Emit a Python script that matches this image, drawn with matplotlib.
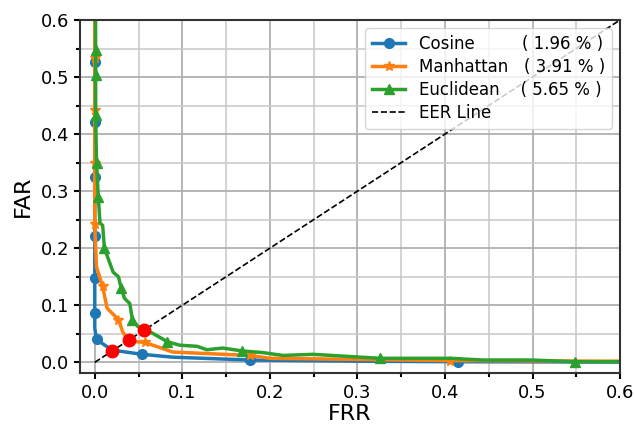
import matplotlib
matplotlib.use("Agg")
import matplotlib.pyplot as plt
from matplotlib.ticker import MultipleLocator

# Cosine
cos_frr = [0.0, 0.0, 0.0, 0.0, 0.0, 0.0, 0.0, 0.0, 0.002, 0.0196, 0.054, 0.089, 0.177, 0.30, 0.415, 0.60]
cos_far = [1.0, 0.527, 0.421, 0.325, 0.221, 0.147, 0.086, 0.060, 0.040, 0.0215, 0.014, 0.009, 0.004, 0.002, 0.001, 0.0005]
cos_marks = [1, 2, 3, 4, 5, 6, 8, 10, 12, 14]

# Manhattan
man_frr = [0.0, 0.0, 0.0, 0.0, 0.0, 0.001, 0.002, 0.009, 0.014, 0.027, 0.032, 0.039, 0.057, 0.089, 0.177, 0.20, 0.406, 0.60]
man_far = [1.0, 0.533, 0.442, 0.350, 0.242, 0.200, 0.167, 0.133, 0.095, 0.075, 0.053, 0.037, 0.035, 0.018, 0.012, 0.007, 0.003, 0.002]
man_marks = [1, 2, 3, 4, 7, 9, 12, 14, 16]

# Euclidean
euc_frr = [0.0, 0.001, 0.001, 0.001, 0.002, 0.004, 0.006, 0.009, 0.011, 0.021, 0.027, 0.030, 0.034,
           0.040, 0.043, 0.049, 0.0565, 0.066, 0.083, 0.097, 0.117, 0.128, 0.146, 0.168, 0.192,
           0.215, 0.249, 0.326, 0.406, 0.443, 0.50, 0.549, 0.60]
euc_far = [1.0, 0.547, 0.504, 0.433, 0.350, 0.290, 0.244, 0.240, 0.200, 0.158, 0.150, 0.131, 0.112,
           0.103, 0.075, 0.063, 0.0565, 0.051, 0.036, 0.030, 0.028, 0.022, 0.025, 0.020, 0.017,
           0.012, 0.014, 0.007, 0.007, 0.004, 0.004, 0.001, 0.001]
euc_marks = [1, 2, 3, 4, 5, 8, 11, 14, 18, 23, 27, 31]

eer_values = [0.0196, 0.0391, 0.0565]

fig = plt.figure(figsize=(6.34, 4.25), dpi=100)
ax = fig.add_axes([0.126, 0.122, 0.852, 0.831])

ax.plot(cos_frr, cos_far, color="#1f77b4", linewidth=2.5, marker="o", markersize=7,
        markevery=cos_marks, label="Cosine         ( 1.96 % )")
ax.plot(man_frr, man_far, color="#ff7f0e", linewidth=2.5, marker="*", markersize=7,
        markevery=man_marks, label="Manhattan   ( 3.91 % )")
ax.plot(euc_frr, euc_far, color="#2ca02c", linewidth=2.5, marker="^", markersize=7,
        markevery=euc_marks, label="Euclidean    ( 5.65 % )")
ax.plot([0, 1], [0, 1], "k--", linewidth=1.2, label="EER Line")
ax.plot(eer_values, eer_values, "o", color="red", markersize=9, zorder=5)

ax.set_xlim(-0.017, 0.6)
ax.set_ylim(-0.019, 0.6)
ax.xaxis.set_major_locator(MultipleLocator(0.1))
ax.yaxis.set_major_locator(MultipleLocator(0.1))
ax.xaxis.set_minor_locator(MultipleLocator(0.05))
ax.yaxis.set_minor_locator(MultipleLocator(0.05))
ax.grid(True, which="major", color="#b0b0b0", linewidth=1.3)
ax.grid(True, which="minor", color="#c8c8c8", linewidth=1.1)
ax.set_axisbelow(True)
ax.tick_params(which="major", labelsize=13, width=1.5, length=4)
ax.tick_params(which="minor", width=1.5, length=3)
for s in ax.spines.values():
    s.set_linewidth(1.5)
    s.set_color("#333333")

ax.set_xlabel("FRR", fontsize=16, labelpad=2)
ax.set_ylabel("FAR", fontsize=16, labelpad=6)
ax.legend(loc="upper right", fontsize=12, labelspacing=0.3)

fig.savefig("out.png", dpi=100)
